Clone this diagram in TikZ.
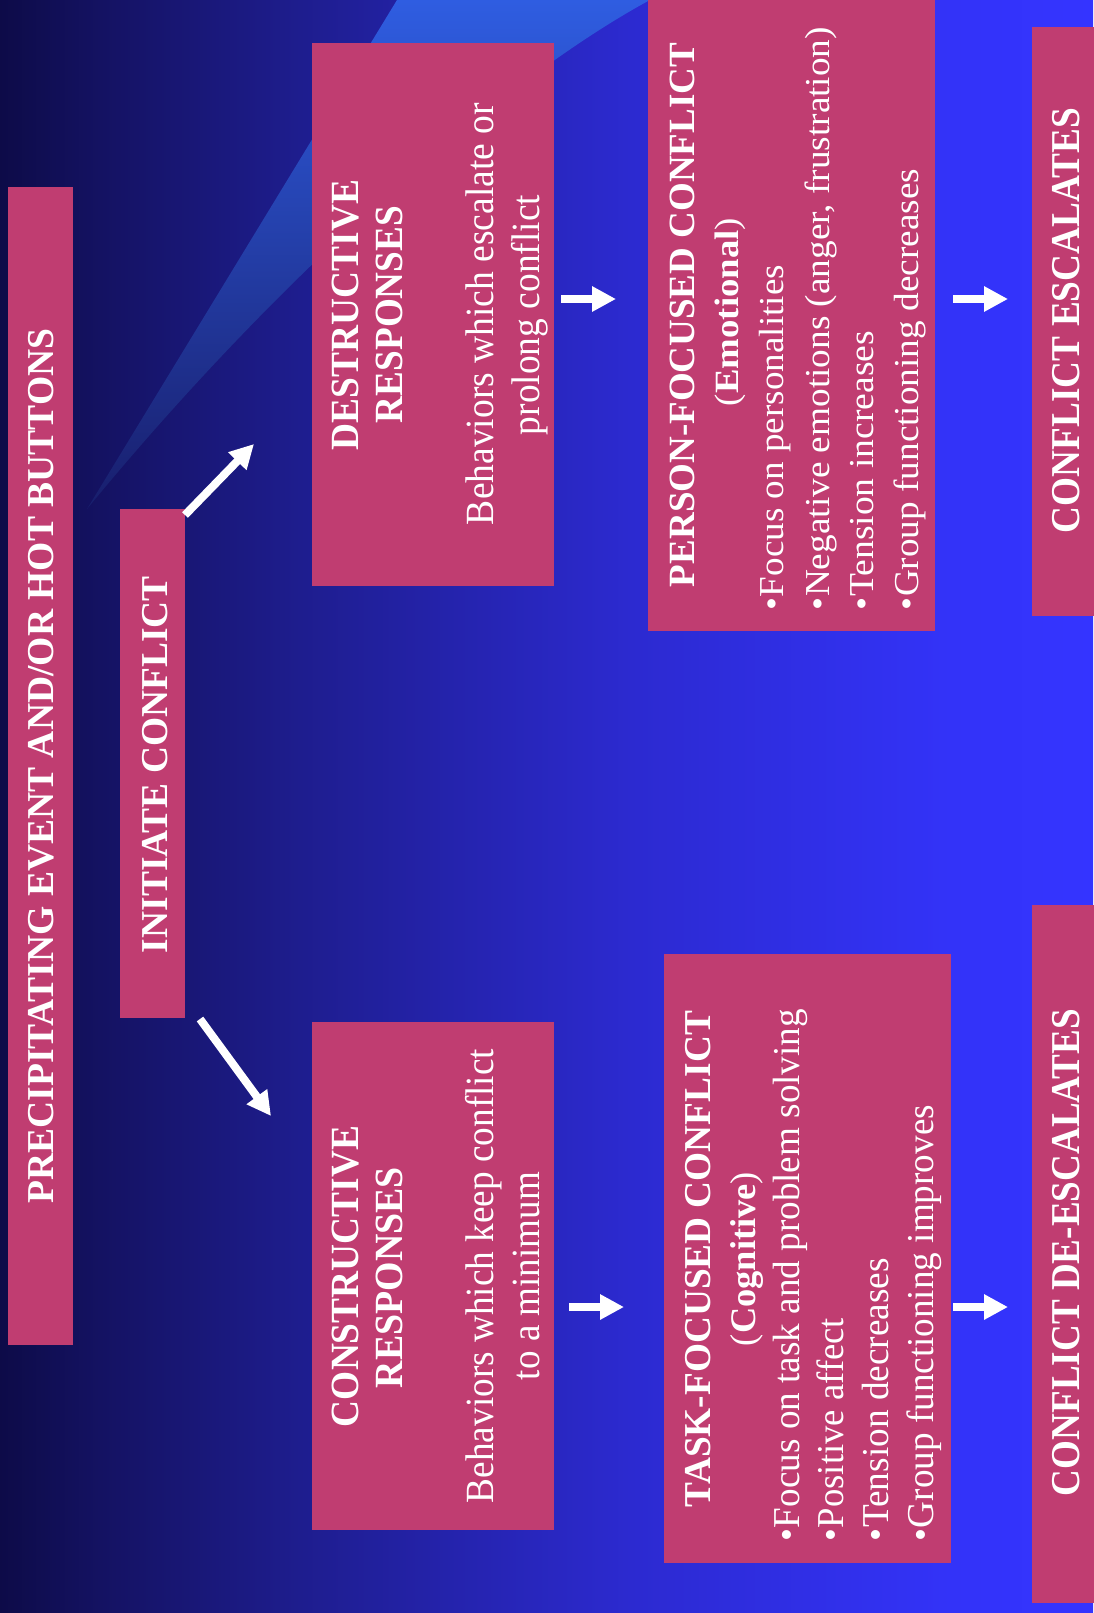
\documentclass[tikz,border=0pt]{standalone}
\usepackage{fontspec}
\setmainfont{Liberation Serif}
\usepackage{graphicx}
\usetikzlibrary{arrows.meta}
\definecolor{boxpink}{RGB}{192,61,113}
\definecolor{bgA}{RGB}{13,11,72}
\definecolor{bgB}{RGB}{20,18,98}
\definecolor{bgC}{RGB}{30,29,142}
\definecolor{bgD}{RGB}{44,42,208}
\definecolor{bgE}{RGB}{51,51,248}
\definecolor{bgF}{RGB}{52,52,255}
\definecolor{streakTop}{RGB}{47,93,225}
\definecolor{streakMid}{RGB}{36,68,180}
\definecolor{streakBot}{RGB}{24,30,108}
\pgfdeclarehorizontalshading{bgshade}{100bp}{color(0bp)=(bgA); color(25bp)=(bgA); color(29.57bp)=(bgB); color(38.72bp)=(bgC); color(53.82bp)=(bgD); color(68.46bp)=(bgE); color(75bp)=(bgF); color(100bp)=(bgF)}
\newcommand\fl[3]{\resizebox{#1pt}{\height}{\fontsize{#2pt}{#2pt}\selectfont #3}}
\tikzset{
  pbox/.style={fill=boxpink, draw=none, inner sep=0pt, outer sep=0pt},
  tline/.style={rotate=90, anchor=base, inner sep=0pt, outer sep=0pt, text=white},
  bline/.style={rotate=90, anchor=base west, inner sep=0pt, outer sep=0pt, text=white},
  barrow/.style={draw=white, line width=8pt, -{Triangle[width=24pt,length=24pt]}}
}
\begin{document}
\begin{tikzpicture}[x=1pt,y=1pt]
\useasboundingbox (0,0) rectangle (1093,-1613);
\shade[shading=bgshade] (0,0) rectangle (1093,-1613);
\shade[top color=streakTop, middle color=streakMid, bottom color=streakBot]
  (87,-509) -- (397,0) -- (650,0) .. controls (520,-70) and (300,-250) .. (87,-509) -- cycle;

% boxes
\node[pbox, minimum width=65, minimum height=1158] (prec) at (40.5,-766) {};
\node[pbox, minimum width=65, minimum height=509] (init) at (152.5,-763.5) {};
\node[pbox, minimum width=242, minimum height=543] (destr) at (433,-314.5) {};
\node[pbox, minimum width=242, minimum height=508] (constr) at (433,-1276) {};
\node[pbox, minimum width=287, minimum height=631] (person) at (791.5,-315.5) {};
\node[pbox, minimum width=287, minimum height=609] (task) at (807.5,-1258.5) {};
\node[pbox, minimum width=68, minimum height=589] (esc) at (1066,-321.5) {};
\node[pbox, minimum width=68, minimum height=698] (deesc) at (1066,-1254) {};

% texts
\node[tline] (tprec) at (53,-766) {\fl{875}{38}{\bfseries PRECIPITATING EVENT AND/OR HOT BUTTONS}};
\node[tline] (tinit) at (167,-764.5) {\fl{377}{38}{\bfseries INITIATE CONFLICT}};

\node[tline] (td1) at (358,-315) {\fl{270}{40}{\bfseries DESTRUCTIVE}};
\node[tline] (td2) at (402,-314.5) {\fl{217}{40}{\bfseries RESPONSES}};
\node[tline] (td3) at (493,-314) {\fl{422}{40}{Behaviors which escalate or}};
\node[tline] (td4) at (539,-315) {\fl{240}{40}{prolong conflict}};

\node[tline] (tc1) at (358,-1276.5) {\fl{301}{40}{\bfseries CONSTRUCTIVE}};
\node[tline] (tc2) at (402,-1277.5) {\fl{221}{40}{\bfseries RESPONSES}};
\node[tline] (tc3) at (493,-1276) {\fl{454}{40}{Behaviors which keep conflict}};
\node[tline] (tc4) at (539,-1276) {\fl{208}{40}{to a minimum}};

\node[tline] (tp1) at (694,-315) {\fl{544}{37}{\bfseries PERSON-FOCUSED CONFLICT}};
\node[tline] (tp2) at (738,-312) {\fl{188}{34}{(\textbf{Emotional})}};
\node[bline] (tp3) at (783,-610) {\fl{345}{35}{•Focus on personalities}};
\node[bline] (tp4) at (829,-610) {\fl{583}{35}{•Negative emotions (anger, frustration)}};
\node[bline] (tp5) at (873,-610) {\fl{279}{35}{•Tension increases}};
\node[bline] (tp6) at (918,-610) {\fl{441}{35}{•Group functioning decreases}};

\node[tline] (tt1) at (710,-1259) {\fl{496}{38}{\bfseries TASK-FOCUSED CONFLICT}};
\node[tline] (tt2) at (755,-1259) {\fl{174}{36}{(\textbf{Cognitive})}};
\node[bline] (tt3) at (799,-1541) {\fl{532}{38}{•Focus on task and problem solving}};
\node[bline] (tt4) at (843,-1541) {\fl{223}{38}{•Positive affect}};
\node[bline] (tt5) at (888,-1541) {\fl{283}{38}{•Tension decreases}};
\node[bline] (tt6) at (933,-1541) {\fl{436}{38}{•Group functioning improves}};

\node[tline] (te1) at (1079,-320.5) {\fl{425}{41}{\bfseries CONFLICT ESCALATES}};
\node[tline] (te2) at (1079,-1252.5) {\fl{487}{41}{\bfseries CONFLICT DE-ESCALATES}};

% arrows
\coordinate (d1s) at (185,-515);
\coordinate (d1e) at (254,-444);
\coordinate (d2s) at (200,-1019);
\coordinate (d2e) at (271,-1116);
\coordinate (h1s) at (561,-299);
\coordinate (h1e) at (616,-299);
\coordinate (h2s) at (569,-1307);
\coordinate (h2e) at (624,-1307);
\coordinate (h3s) at (953,-299);
\coordinate (h3e) at (1008,-299);
\coordinate (h4s) at (953,-1307);
\coordinate (h4e) at (1008,-1307);
\draw[barrow] (d1s) -- (d1e);
\draw[barrow] (d2s) -- (d2e);
\draw[barrow] (h1s) -- (h1e);
\draw[barrow] (h2s) -- (h2e);
\draw[barrow] (h3s) -- (h3e);
\draw[barrow] (h4s) -- (h4e);
\end{tikzpicture}
\end{document}
